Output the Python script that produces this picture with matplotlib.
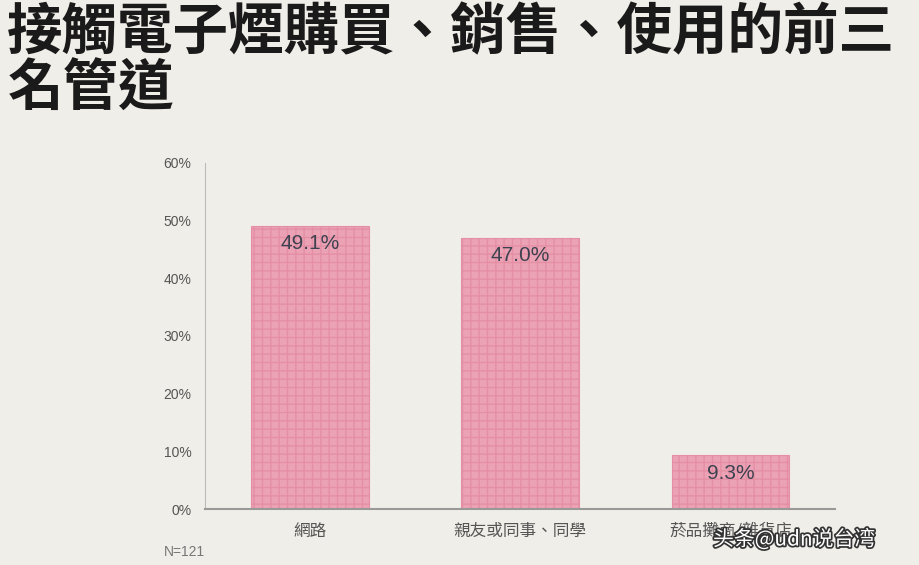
import matplotlib
matplotlib.use("Agg")
import matplotlib.pyplot as plt
import matplotlib.patheffects as pe

plt.rcParams['font.family'] = ['Noto Sans CJK TC', 'DejaVu Sans']

categories = ["網路", "親友或同事、同學", "菸品攤商/雜貨店"]
values = [49.1, 47.0, 9.3]
yticks = [0, 10, 20, 30, 40, 50, 60]
title = "接觸電子煙購買、銷售、使用的前三\n名管道"
bg = "#F0EEE9"

fig = plt.figure(figsize=(9.2, 5.65), dpi=100, facecolor=bg)
ax = fig.add_axes([0.223, 0.099, 0.685, 0.613], facecolor=bg)
x = range(len(categories))
ax.bar(x, values, width=0.56, color="#EBA2B4", edgecolor="#E58FA5", linewidth=0.8,
       hatch="++", zorder=2)
for xi, v in zip(x, values):
    ax.text(xi, v - 1.5, f"{v:.1f}%", ha="center", va="top", fontsize=15,
            color="#3E4250", family=["Liberation Sans", "DejaVu Sans"])
ax.set_xlim(-0.5, 2.5)
ax.set_ylim(0, 60)
ax.set_yticks(yticks)
ax.set_yticklabels([f"{t}%" for t in yticks], fontsize=10, color="#555555",
                   family=["Liberation Sans"])
ax.set_xticks(list(x))
ax.set_xticklabels(categories, fontsize=12, color="#555555")
ax.tick_params(length=0, pad=10)
for s in ["top", "right"]:
    ax.spines[s].set_visible(False)
ax.spines["left"].set_color("#BBBBBB")
ax.spines["bottom"].set_color("#999999")
ax.spines["bottom"].set_linewidth(1.5)

fig.text(0.008, 0.99, title, ha="left", va="top", fontsize=40, fontweight="bold",
         color="#1A1A1A", linespacing=1.0)
fig.text(0.178, 0.01, "N=121", ha="left", va="bottom", fontsize=10, color="#777777",
         family=["Liberation Sans"])
fig.text(0.775, 0.045, "头条@udn说台湾", ha="left", va="center", fontsize=15,
         color="white", family=["Noto Sans CJK SC", "DejaVu Sans"],
         path_effects=[pe.withStroke(linewidth=2.5, foreground="#333333")])
fig.savefig("out.png", dpi=100, facecolor=bg)
